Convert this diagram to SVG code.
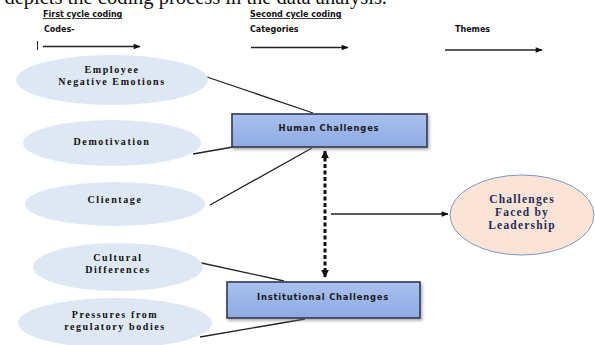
<svg xmlns="http://www.w3.org/2000/svg" width="595" height="345" viewBox="0 0 595 345">
<defs>
<style>
.hdr{font-family:"DejaVu Sans",sans-serif;font-weight:bold;font-size:8px;fill:#111}
.el{fill:#dde8f4;stroke:none}
.elt{font-family:"Liberation Serif",serif;font-weight:bold;font-size:10px;letter-spacing:1.6px;fill:#111;text-anchor:middle}
.box{fill:url(#bg);stroke:#2e3a52;stroke-width:1.6}
.bt{font-family:"DejaVu Sans",sans-serif;font-weight:bold;font-size:8.4px;letter-spacing:0.8px;fill:#1a1a1a;text-anchor:middle}
.ln{stroke:#222;stroke-width:1.3;fill:none}
.lt{font-family:"Liberation Serif",serif;font-weight:bold;font-size:11.5px;letter-spacing:1.2px;fill:#1f2d5a;text-anchor:middle}
</style>
<linearGradient id="bg" x1="0" y1="0" x2="0" y2="1">
<stop offset="0" stop-color="#a9c1ef"/>
<stop offset="1" stop-color="#8eaae2"/>
</linearGradient>
<filter id="sh" x="-10%" y="-30%" width="120%" height="160%">
<feDropShadow dx="1.5" dy="2" stdDeviation="1.5" flood-color="#777" flood-opacity="0.6"/>
</filter>
<marker id="ah" viewBox="0 0 10 10" refX="9" refY="5" markerWidth="8" markerHeight="7" markerUnits="userSpaceOnUse" orient="auto">
<path d="M0,1 L10,5 L0,9 z" fill="#111"/>
</marker>
<marker id="ahd" viewBox="0 0 10 10" refX="9" refY="5" markerWidth="8" markerHeight="8" markerUnits="userSpaceOnUse" orient="auto-start-reverse">
<path d="M0,0 L10,5 L0,10 z" fill="#111"/>
</marker>
</defs>
<rect width="595" height="345" fill="#fff"/>
<text x="387" y="3.5" font-family="Liberation Serif,serif" font-size="20.5" text-anchor="end" fill="#111">depicts the coding process in the data analysis.</text>

<g id="headers">
<text class="hdr" x="43" y="17" text-decoration="underline">First cycle coding</text>
<text class="hdr" x="250" y="17" text-decoration="underline">Second cycle  coding</text>
<text class="hdr" x="44" y="32">Codes-</text>
<text class="hdr" x="250" y="32">Categories</text>
<text class="hdr" x="455" y="32">Themes</text>
<line x1="37.5" y1="41" x2="37.5" y2="50" stroke="#222" stroke-width="1"/>
<line class="ln" x1="43" y1="46.5" x2="140" y2="46.5" stroke-width="1.8" marker-end="url(#ah)"/>
<line class="ln" x1="251" y1="47.5" x2="348" y2="47.5" stroke-width="1.8" marker-end="url(#ah)"/>
<line class="ln" x1="445" y1="50" x2="542" y2="50" stroke-width="1.8" marker-end="url(#ah)"/>
</g>

<g id="connectors">
<line class="ln" x1="207" y1="77" x2="313" y2="113"/>
<line class="ln" x1="193" y1="154" x2="233" y2="147"/>
<line class="ln" x1="210" y1="205" x2="312" y2="148"/>
<line class="ln" x1="197" y1="262" x2="284" y2="281"/>
<line class="ln" x1="200" y1="337" x2="305" y2="319"/>
<line x1="325" y1="151" x2="325" y2="277" stroke="#111" stroke-width="3" stroke-dasharray="4,2.5" marker-start="url(#ahd)" marker-end="url(#ahd)"/>
<line class="ln" x1="331" y1="214" x2="448" y2="214" stroke-width="1.2" marker-end="url(#ah)"/>
</g>

<g id="n-employee">
<ellipse class="el" cx="112" cy="80" rx="96" ry="25"/>
<text class="elt" x="112" y="73">Employee</text>
<text class="elt" x="112" y="85">Negative Emotions</text>
</g>
<g id="n-demotivation">
<ellipse class="el" cx="112" cy="143" rx="89" ry="23"/>
<text class="elt" x="112" y="145">Demotivation</text>
</g>
<g id="n-clientage">
<ellipse class="el" cx="115" cy="204" rx="90" ry="22"/>
<text class="elt" x="115" y="203">Clientage</text>
</g>
<g id="n-cultural">
<ellipse class="el" cx="118" cy="267" rx="85" ry="24"/>
<text class="elt" x="118" y="261">Cultural</text>
<text class="elt" x="118" y="273">Differences</text>
</g>
<g id="n-pressures">
<ellipse class="el" cx="115" cy="323" rx="97" ry="25"/>
<text class="elt" x="115" y="318">Pressures from</text>
<text class="elt" x="115" y="330">regulatory bodies</text>
</g>

<g id="n-human">
<rect class="box" x="232" y="114" width="195" height="33" filter="url(#sh)"/>
<text class="bt" x="329" y="131">Human  Challenges</text>
</g>
<g id="n-institutional">
<rect class="box" x="227" y="282" width="193" height="36" filter="url(#sh)"/>
<text class="bt" x="323" y="300">Institutional Challenges</text>
</g>

<g id="n-leadership">
<ellipse cx="522" cy="215" rx="72" ry="40" fill="#fbe4d5" stroke="#7b98c4" stroke-width="1"/>
<text class="lt" x="522" y="203">Challenges</text>
<text class="lt" x="522" y="216">Faced by</text>
<text class="lt" x="522" y="229">Leadership</text>
</g>
</svg>
